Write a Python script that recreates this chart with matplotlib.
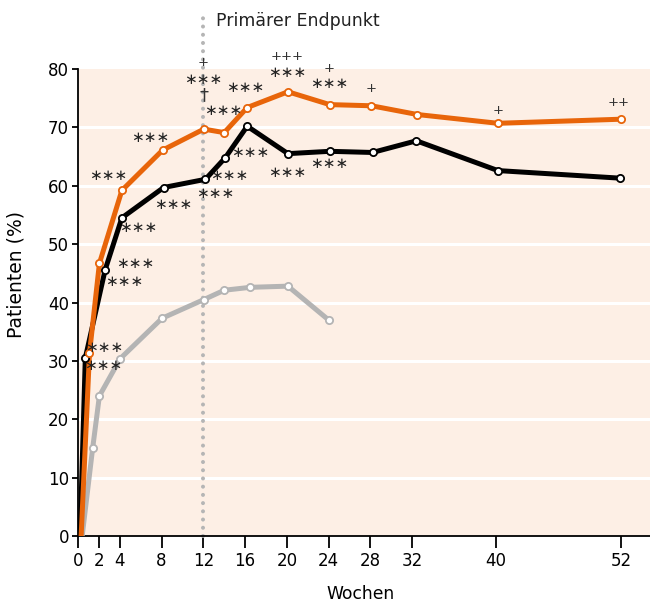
import matplotlib.pyplot as plt

plt.rcParams['font.family'] = ['DejaVu Sans']

# Wochen und Anteil der Patienten (%) je Behandlungsarm
wochen_orange = [0.3, 1.1, 2.05, 4.2, 8.1, 12.05, 14.0, 16.2, 20.1, 24.1, 28.1, 32.5, 40.2, 52.0]
werte_orange = [0, 31.3, 46.7, 59.2, 66.1, 69.7, 69.1, 73.4, 76.1, 73.9, 73.7, 72.2, 70.7, 71.4]

wochen_schwarz = [0.2, 0.7, 2.6, 4.2, 8.2, 12.2, 14.1, 16.2, 20.1, 24.1, 28.2, 32.4, 40.2, 51.9]
werte_schwarz = [0, 30.5, 45.6, 54.5, 59.7, 61.1, 64.8, 70.2, 65.5, 65.9, 65.7, 67.7, 62.6, 61.3]

wochen_grau = [0.4, 1.4, 2.05, 4.05, 8.05, 12.05, 14.0, 16.5, 20.1, 24.0]
werte_grau = [0, 15.0, 24.0, 30.4, 37.3, 40.5, 42.1, 42.6, 42.8, 37.0]

x_ticks = [0, 2, 4, 8, 12, 16, 20, 24, 28, 32, 40, 52]
y_ticks = [0, 10, 20, 30, 40, 50, 60, 70, 80]

# Signifikanzmarken: (x, y, Text) in Pixeln
sterne = [
    (104.5, 348, '∗∗∗'), (103.5, 365, '∗∗∗'),
    (135, 263, '∗∗∗'), (124, 281, '∗∗∗'),
    (108, 176, '∗∗∗'), (138, 227, '∗∗∗'),
    (150, 137, '∗∗∗'), (173, 204, '∗∗∗'),
    (203.5, 79, '∗∗∗'), (215.5, 193.5, '∗∗∗'),
    (223.5, 111, '∗∗∗'), (229.5, 176, '∗∗∗'),
    (245, 87, '∗∗∗'), (250, 152.5, '∗∗∗'),
    (287.5, 72.5, '∗∗∗'), (287.5, 172.5, '∗∗∗'),
    (329, 83, '∗∗∗'), (329, 163.5, '∗∗∗'),
]
kreuze = [
    (203.5, 62, '+'), (287.5, 57, '+++'), (329, 68.5, '+'),
    (371, 88, '+'), (498.5, 110, '+'), (619, 102, '++'),
]

W, H = 650, 606
fig = plt.figure(figsize=(6.5, 6.06), dpi=100)
ax = fig.add_axes([78 / W, 1 - 536 / H, (W - 78) / W, (536 - 69) / H])
ax.set_facecolor('#fdefe5')
ax.set_xlim(0, (W - 77.7) / 10.45)
ax.set_ylim(0, 80)

for y in y_ticks[1:-1]:
    ax.axhline(y, color='white', lw=2.2, zorder=1)

# Primärer Endpunkt bei Woche 12
ax.plot([12, 12], [0, 90], color='#b5b5b5', lw=2.9, linestyle=(0, (0.01, 2.03)),
        solid_capstyle='round', dash_capstyle='round', clip_on=False, zorder=2)
ax.text(13.2, 88.2, 'Primärer Endpunkt', fontsize=12.5, color='#222222',
        va='center', ha='left', clip_on=False)

linien = [
    (wochen_grau, werte_grau, '#b4b4b4'),
    (wochen_schwarz, werte_schwarz, '#000000'),
    (wochen_orange, werte_orange, '#e8650a'),
]
for xs, ys, farbe in linien:
    ax.plot(xs, ys, color=farbe, lw=3.6, zorder=3, solid_joinstyle='round')
    ax.plot(xs[1:], ys[1:], 'o', ms=5.2, mfc='white', mec=farbe, mew=1.3, zorder=4)

for px, py, s in sterne:
    fig.text(px / W, 1 - py / H, s, fontsize=11, ha='center', va='center', color='#222222')
for px, py, s in kreuze:
    fig.text(px / W, 1 - py / H, s, fontsize=9.5, ha='center', va='center', color='#333333')
fig.text(203.5 / W, 1 - 95 / H, '†', fontsize=13, ha='center', va='center', color='#333333')

ax.set_xticks(x_ticks)
ax.set_yticks(y_ticks)
ax.tick_params(direction='out', width=1.3, labelsize=12, colors='black')
ax.tick_params(axis='x', length=8.5, pad=3)
ax.tick_params(axis='y', length=4.5, pad=2)
for s in ['top', 'right']:
    ax.spines[s].set_visible(False)
for s in ['left', 'bottom']:
    ax.spines[s].set_linewidth(1.3)

fig.text(361 / W, 1 - 594 / H, 'Wochen', fontsize=12.3, ha='center', va='center')
fig.text(16 / W, 1 - 274 / H, 'Patienten (%)', fontsize=13.5, ha='center', va='center',
         rotation=90)

fig.savefig('out.png', dpi=100)
